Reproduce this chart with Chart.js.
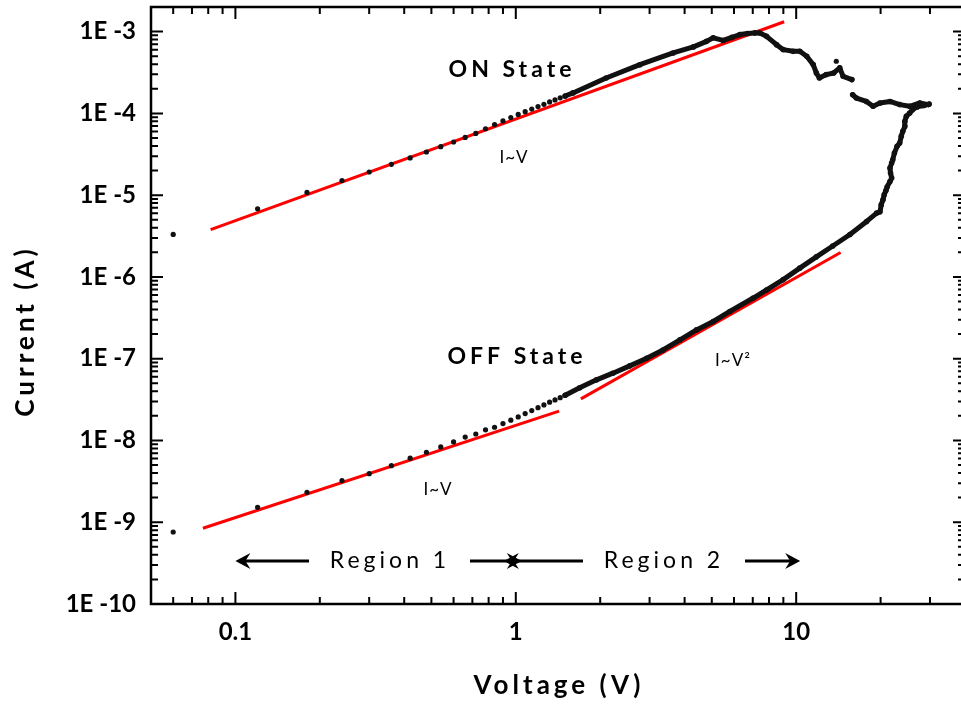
<!DOCTYPE html>
<html>
<head>
<meta charset="utf-8">
<script src="https://cdn.jsdelivr.net/npm/chart.js@4"></script>
<style>
  html, body { margin: 0; padding: 0; background: #fff; overflow: hidden; }
  canvas { display: block; }
</style>
</head>
<body>
<canvas id="chart" width="970" height="704" style="width:970px;height:704px"></canvas>
<script>
// I-V sweep data (voltage in V, current in A)
const onDotVolts = [0.06, 0.12, 0.18, 0.24, 0.30, 0.36, 0.42, 0.48, 0.54, 0.60, 0.66, 0.72, 0.78, 0.84, 0.90, 0.96, 1.02, 1.08, 1.14, 1.20, 1.26, 1.32, 1.38, 1.44, 1.50, 13.9];
const onDotAmps = [3.31e-6, 6.82e-6, 1.08e-5, 1.51e-5, 1.92e-5, 2.38e-5, 2.85e-5, 3.37e-5, 3.92e-5, 4.47e-5, 5.08e-5, 5.69e-5, 6.49e-5, 7.29e-5, 8.09e-5, 8.88e-5, 9.71e-5, 1.05e-4, 1.13e-4, 1.21e-4, 1.29e-4, 1.38e-4, 1.46e-4, 1.55e-4, 1.63e-4, 4.34e-4];

const onTraceVolts = [1.50, 1.60, 2.10, 2.77, 3.64, 4.30, 4.79, 5.06, 5.49, 5.90, 6.30, 6.70, 7.12, 7.42, 7.84, 8.51, 8.99, 9.75, 10.3, 10.9, 11.5, 11.8, 12.1, 12.8, 13.6, 14.3, 14.7, 15.8, 15.8, 15.9, 16.4, 17.8, 18.8, 19.9, 21.6, 23.4, 25.4, 27.6, 29.6];
const onTraceAmps = [1.63e-4, 1.78e-4, 2.71e-4, 3.94e-4, 5.48e-4, 6.5e-4, 7.6e-4, 8.4e-4, 7.8e-4, 8.5e-4, 9.2e-4, 9.5e-4, 9.64e-4, 9.6e-4, 8.75e-4, 6.93e-4, 6.02e-4, 5.74e-4, 5.74e-4, 4.99e-4, 3.95e-4, 3.12e-4, 2.71e-4, 2.98e-4, 3.12e-4, 3.6e-4, 2.84e-4, 2.59e-4, null, 1.69e-4, 1.54e-4, 1.40e-4, 1.22e-4, 1.34e-4, 1.40e-4, 1.28e-4, 1.22e-4, 1.34e-4, 1.28e-4];

const offDotVolts = [0.06, 0.12, 0.18, 0.24, 0.30, 0.36, 0.42, 0.48, 0.54, 0.60, 0.66, 0.72, 0.78, 0.84, 0.90, 0.96, 1.02, 1.08, 1.14, 1.20, 1.26, 1.32, 1.38, 1.44, 1.50];
const offDotAmps = [7.6e-10, 1.52e-9, 2.32e-9, 3.23e-9, 3.93e-9, 4.92e-9, 6.07e-9, 7.18e-9, 8.34e-9, 9.6e-9, 1.10e-8, 1.20e-8, 1.35e-8, 1.45e-8, 1.61e-8, 1.77e-8, 1.94e-8, 2.13e-8, 2.32e-8, 2.52e-8, 2.72e-8, 2.94e-8, 3.13e-8, 3.34e-8, 3.57e-8];

const offTraceVolts = [1.50, 1.69, 1.94, 2.22, 2.55, 2.93, 3.35, 3.85, 4.41, 5.06, 5.80, 7.03, 7.84, 8.99, 10.3, 11.8, 13.5, 15.55, 17.83, 19.36, 19.9, 20.1, 20.4, 20.6, 20.9, 21.1, 21.6, 21.9, 21.7, 21.6, 21.9, 22.1, 22.4, 22.9, 23.4, 23.7, 24.0, 24.4, 24.4, 24.7, 25.4, 26.0, 27.0, 28.5, 29.8];
const offTraceAmps = [3.57e-8, 4.42e-8, 5.51e-8, 6.65e-8, 8.17e-8, 1.01e-7, 1.28e-7, 1.70e-7, 2.25e-7, 2.85e-7, 3.78e-7, 5.52e-7, 6.92e-7, 9.27e-7, 1.28e-6, 1.76e-6, 2.39e-6, 3.30e-6, 4.77e-6, 6.04e-6, 6.26e-6, 7.6e-6, 8.8e-6, 1.01e-5, 1.14e-5, 1.26e-5, 1.47e-5, 1.62e-5, 1.87e-5, 2.15e-5, 2.47e-5, 2.71e-5, 3.27e-5, 3.95e-5, 4.34e-5, 5.24e-5, 6.03e-5, 6.93e-5, 7.98e-5, 9.19e-5, 1.01e-4, 1.11e-4, 1.2e-4, 1.25e-4, 1.3e-4];

// red power-law fits (end points)
const onFitVolts = [0.0816, 9.06];
const onFitAmps = [3.78e-6, 1.32e-3];
const offFit1Volts = [0.0766, 1.427];
const offFit1Amps = [8.43e-10, 2.28e-8];
const offFit2Volts = [1.706, 14.4];
const offFit2Amps = [3.23e-8, 1.99e-6];

// axes
const xMajorTicks = [0.1, 1, 10];
const xTickLabels = ['0.1', '1', '10'];
const yMajorTicks = [1e-10, 1e-9, 1e-8, 1e-7, 1e-6, 1e-5, 1e-4, 1e-3];
const yTickLabels = ['1E -10', '1E -9', '1E -8', '1E -7', '1E -6', '1E -5', '1E -4', '1E -3'];

const FONT = 'Lato';
const INK = '#000';

function pairs(xs, ys) {
    return xs.map((x, i) => ({ x: x, y: ys[i] }));
}

function minorValues(min, max) {
    const vals = [];
    for (let e = Math.floor(Math.log10(min)); e <= Math.ceil(Math.log10(max)); e++) {
        for (let k = 2; k <= 9; k++) {
            const v = k * Math.pow(10, e);
            if (v > min && v < max) vals.push(v);
        }
    }
    return vals;
}

// Box frame with inward ticks on all four sides
const framePlugin = {
    id: 'frame',
    afterDatasetsDraw(chart) {
        const { ctx, chartArea: a, scales } = chart;
        const xs = scales.x, ys = scales.y;
        ctx.save();
        ctx.strokeStyle = INK;
        ctx.lineWidth = 2;
        const major = 12, minor = 7;
        const xTick = (v, len) => {
            const p = xs.getPixelForValue(v);
            ctx.beginPath();
            ctx.moveTo(p, a.bottom); ctx.lineTo(p, a.bottom - len);
            ctx.moveTo(p, a.top); ctx.lineTo(p, a.top + len);
            ctx.stroke();
        };
        const yTick = (v, len) => {
            const p = ys.getPixelForValue(v);
            ctx.beginPath();
            ctx.moveTo(a.left, p); ctx.lineTo(a.left + len, p);
            ctx.moveTo(a.right, p); ctx.lineTo(a.right - len, p);
            ctx.stroke();
        };
        xMajorTicks.forEach(v => xTick(v, major));
        minorValues(xs.min, xs.max).forEach(v => xTick(v, minor));
        yMajorTicks.forEach(v => yTick(v, major));
        minorValues(ys.min, ys.max).forEach(v => yTick(v, minor));
        ctx.lineWidth = 2.5;
        ctx.strokeRect(a.left, a.top, a.right - a.left, a.bottom - a.top);
        ctx.restore();
    }
};

function arrow(ctx, x1, x2, y) {
    const dir = Math.sign(x2 - x1);
    ctx.beginPath();
    ctx.moveTo(x1, y);
    ctx.lineTo(x2 - dir * 4, y);
    ctx.stroke();
    ctx.beginPath();
    ctx.moveTo(x2, y);
    ctx.lineTo(x2 - dir * 15, y - 8);
    ctx.lineTo(x2 - dir * 10, y);
    ctx.lineTo(x2 - dir * 15, y + 8);
    ctx.closePath();
    ctx.fill();
}

// Labels, region arrows and axis titles
const notesPlugin = {
    id: 'notes',
    afterDraw(chart) {
        const { ctx, scales } = chart;
        const xs = scales.x;
        ctx.save();
        ctx.fillStyle = INK;
        ctx.strokeStyle = INK;
        ctx.textAlign = 'center';
        ctx.textBaseline = 'middle';

        ctx.font = 'bold 23px ' + FONT;
        ctx.letterSpacing = '4px';
        ctx.fillText('ON State', 512, 70);
        ctx.fillText('OFF State', 517, 357);

        ctx.font = '17px ' + FONT;
        ctx.letterSpacing = '1px';
        ctx.fillText('I~V', 514, 158);
        ctx.fillText('I~V²', 733, 361);
        ctx.fillText('I~V', 438, 490);

        // Region 1: 0.1 .. 1 V, Region 2: 1 .. 10 V
        const p01 = xs.getPixelForValue(0.1), p1 = xs.getPixelForValue(1), p10 = xs.getPixelForValue(10);
        const ry = 561;
        ctx.lineWidth = 3;
        arrow(ctx, 309, p01, ry);
        arrow(ctx, 470, p1 + 6, ry);
        arrow(ctx, 583, p1 - 12, ry);
        arrow(ctx, 745, p10 + 4, ry);
        ctx.font = '23px ' + FONT;
        ctx.letterSpacing = '4px';
        ctx.fillText('Region 1', 390, ry);
        ctx.fillText('Region 2', 664, ry);

        // axis titles
        ctx.font = 'bold 26px ' + FONT;
        ctx.letterSpacing = '4px';
        ctx.fillText('Voltage (V)', 559, 686);
        ctx.translate(26, 331);
        ctx.rotate(-Math.PI / 2);
        ctx.fillText('Current (A)', 0, 0);
        ctx.restore();
    }
};

const tickFont = { family: FONT, size: 24, weight: 'bold' };

const ctx = document.getElementById('chart').getContext('2d');
const chart = new Chart(ctx, {
    type: 'scatter',
    data: {
        datasets: [
            { label: 'ON', data: pairs(onDotVolts, onDotAmps), showLine: false, pointRadius: 2.6, backgroundColor: '#111', borderWidth: 0 },
            { label: 'OFF', data: pairs(offDotVolts, offDotAmps), showLine: false, pointRadius: 2.6, backgroundColor: '#111', borderWidth: 0 },
            { label: 'ON sweep', data: pairs(onTraceVolts, onTraceAmps), showLine: true, spanGaps: false, borderColor: '#111', borderWidth: 5, borderJoinStyle: 'round', borderCapStyle: 'round', pointRadius: 2.8, backgroundColor: '#111', pointBorderWidth: 0 },
            { label: 'OFF sweep', data: pairs(offTraceVolts, offTraceAmps), showLine: true, borderColor: '#111', borderWidth: 5, borderJoinStyle: 'round', borderCapStyle: 'round', pointRadius: 2.8, backgroundColor: '#111', pointBorderWidth: 0 },
            { label: 'ON fit', data: pairs(onFitVolts, onFitAmps), showLine: true, borderColor: '#ff0000', borderWidth: 3, pointRadius: 0 },
            { label: 'OFF fit 1', data: pairs(offFit1Volts, offFit1Amps), showLine: true, borderColor: '#ff0000', borderWidth: 3, pointRadius: 0 },
            { label: 'OFF fit 2', data: pairs(offFit2Volts, offFit2Amps), showLine: true, borderColor: '#ff0000', borderWidth: 3, pointRadius: 0 }
        ]
    },
    options: {
        responsive: false,
        animation: false,
        layout: { padding: { top: 7, right: 5, left: 0, bottom: 0 } },
        plugins: { legend: { display: false }, tooltip: { enabled: false } },
        scales: {
            x: {
                type: 'logarithmic',
                min: 0.05,
                max: 40,
                grid: { display: false, drawTicks: false },
                border: { display: false },
                afterBuildTicks: s => { s.ticks = xMajorTicks.map(v => ({ value: v, major: true })); },
                afterFit: s => { s.height = 100; s.paddingLeft = 0; s.paddingRight = 0; },
                ticks: {
                    autoSkip: false, maxRotation: 0, padding: 14, color: INK, font: tickFont,
                    callback: (v, i) => xTickLabels[i]
                }
            },
            y: {
                type: 'logarithmic',
                min: 1e-10,
                max: 2e-3,
                grid: { display: false, drawTicks: false },
                border: { display: false },
                afterBuildTicks: s => { s.ticks = yMajorTicks.map(v => ({ value: v, major: true })); },
                afterFit: s => { s.width = 151; s.paddingTop = 0; s.paddingBottom = 0; },
                ticks: {
                    autoSkip: false, padding: 15, color: INK, font: tickFont,
                    callback: (v, i) => yTickLabels[i]
                }
            }
        }
    },
    plugins: [framePlugin, notesPlugin]
});
</script>
</body>
</html>
